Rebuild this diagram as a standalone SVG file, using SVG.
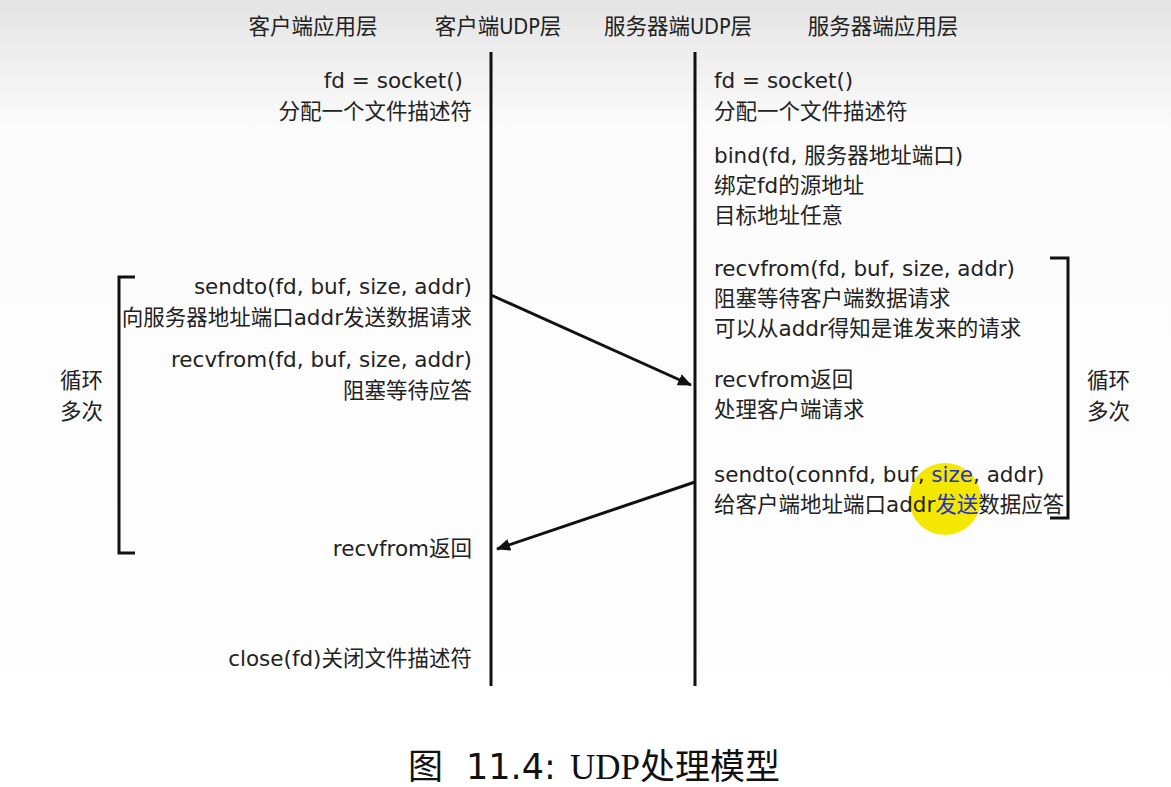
<svg xmlns="http://www.w3.org/2000/svg" width="1171" height="787" viewBox="0 0 1171 787">
<defs>
<linearGradient id="bg" x1="0" y1="0" x2="0" y2="1">
<stop offset="0" stop-color="#e4e4e4"/>
<stop offset="0.16" stop-color="#fbfbfb"/>
<stop offset="1" stop-color="#ffffff"/>
</linearGradient>
<marker id="ah" markerWidth="14" markerHeight="12" refX="13" refY="6" orient="auto" markerUnits="userSpaceOnUse">
<path d="M0,0 L14,6 L0,12 Z" fill="#111"/>
</marker>
<style>
.t{font-family:"DejaVu Sans","Noto Sans CJK SC",sans-serif;font-size:21.5px;fill:#222}
.h{font-family:"DejaVu Sans Condensed","Noto Sans CJK SC",sans-serif;font-size:21.5px;fill:#222}
.r{text-anchor:end}
.ln{stroke:#111;stroke-width:3;fill:none}
.br{stroke:#111;stroke-width:3;fill:none}
.cap{font-size:35px;fill:#111}
</style>
</defs>
<rect width="1171" height="787" fill="url(#bg)"/>
<g id="headers">
<text class="h" x="313" y="34" text-anchor="middle">客户端应用层</text>
<text class="h" x="498" y="34" text-anchor="middle">客户端UDP层</text>
<text class="h" x="678" y="34" text-anchor="middle">服务器端UDP层</text>
<text class="h" x="883" y="34" text-anchor="middle">服务器端应用层</text>
</g>
<g id="lifelines">
<line class="ln" x1="491" y1="52" x2="491" y2="686"/>
<line class="ln" x1="695" y1="52" x2="695" y2="686"/>
</g>
<g id="client-texts">
<text class="t r" x="463" y="88">fd = socket()</text>
<text class="t r" x="472" y="119">分配一个文件描述符</text>
<text class="t r" x="472" y="294">sendto(fd, buf, size, addr)</text>
<text class="t r" x="472" y="325">向服务器地址端口addr发送数据请求</text>
<text class="t r" x="472" y="367">recvfrom(fd, buf, size, addr)</text>
<text class="t r" x="472" y="398">阻塞等待应答</text>
<text class="t r" x="472" y="556">recvfrom返回</text>
<text class="t r" x="472" y="666">close(fd)关闭文件描述符</text>
</g>
<g id="server-texts">
<text class="t" x="714" y="88">fd = socket()</text>
<text class="t" x="714" y="119">分配一个文件描述符</text>
<text class="t" x="714" y="163">bind(fd, 服务器地址端口)</text>
<text class="t" x="714" y="193">绑定fd的源地址</text>
<text class="t" x="714" y="223">目标地址任意</text>
<text class="t" x="714" y="276">recvfrom(fd, buf, size, addr)</text>
<text class="t" x="714" y="306">阻塞等待客户端数据请求</text>
<text class="t" x="714" y="336">可以从addr得知是谁发来的请求</text>
<text class="t" x="714" y="387">recvfrom返回</text>
<text class="t" x="714" y="417">处理客户端请求</text>
</g>
<g id="highlight">
<circle cx="945" cy="499" r="36" fill="#f5e800"/>
</g>
<g id="server-send">
<text class="t" x="714" y="482">sendto(connfd, buf, <tspan fill="#2233cc">size</tspan>, addr)</text>
<text class="t" x="714" y="512">给客户端地址端口addr<tspan fill="#2233cc">发送</tspan>数据应答</text>
</g>
<g id="loop-left">
<path class="br" d="M135,277 H119 V553 H135"/>
<text class="t" x="60" y="388">循环</text>
<text class="t" x="60" y="419">多次</text>
</g>
<g id="loop-right">
<path class="br" d="M1050,258 H1068 V518 H1050"/>
<text class="t" x="1087" y="388">循环</text>
<text class="t" x="1087" y="419">多次</text>
</g>
<g id="connectors">
<line class="ln" x1="491" y1="295" x2="691" y2="385" marker-end="url(#ah)"/>
<line class="ln" x1="695" y1="482" x2="497" y2="549" marker-end="url(#ah)"/>
</g>
<g id="caption">
<text x="408" y="779" class="cap" font-family="Noto Sans CJK SC,sans-serif">图</text>
<text x="466" y="779" class="cap" font-family="DejaVu Sans,sans-serif">11.4:</text>
<text x="570" y="779" class="cap" font-family="Liberation Serif,Noto Sans CJK SC,serif">UDP处理模型</text>
</g>
</svg>
